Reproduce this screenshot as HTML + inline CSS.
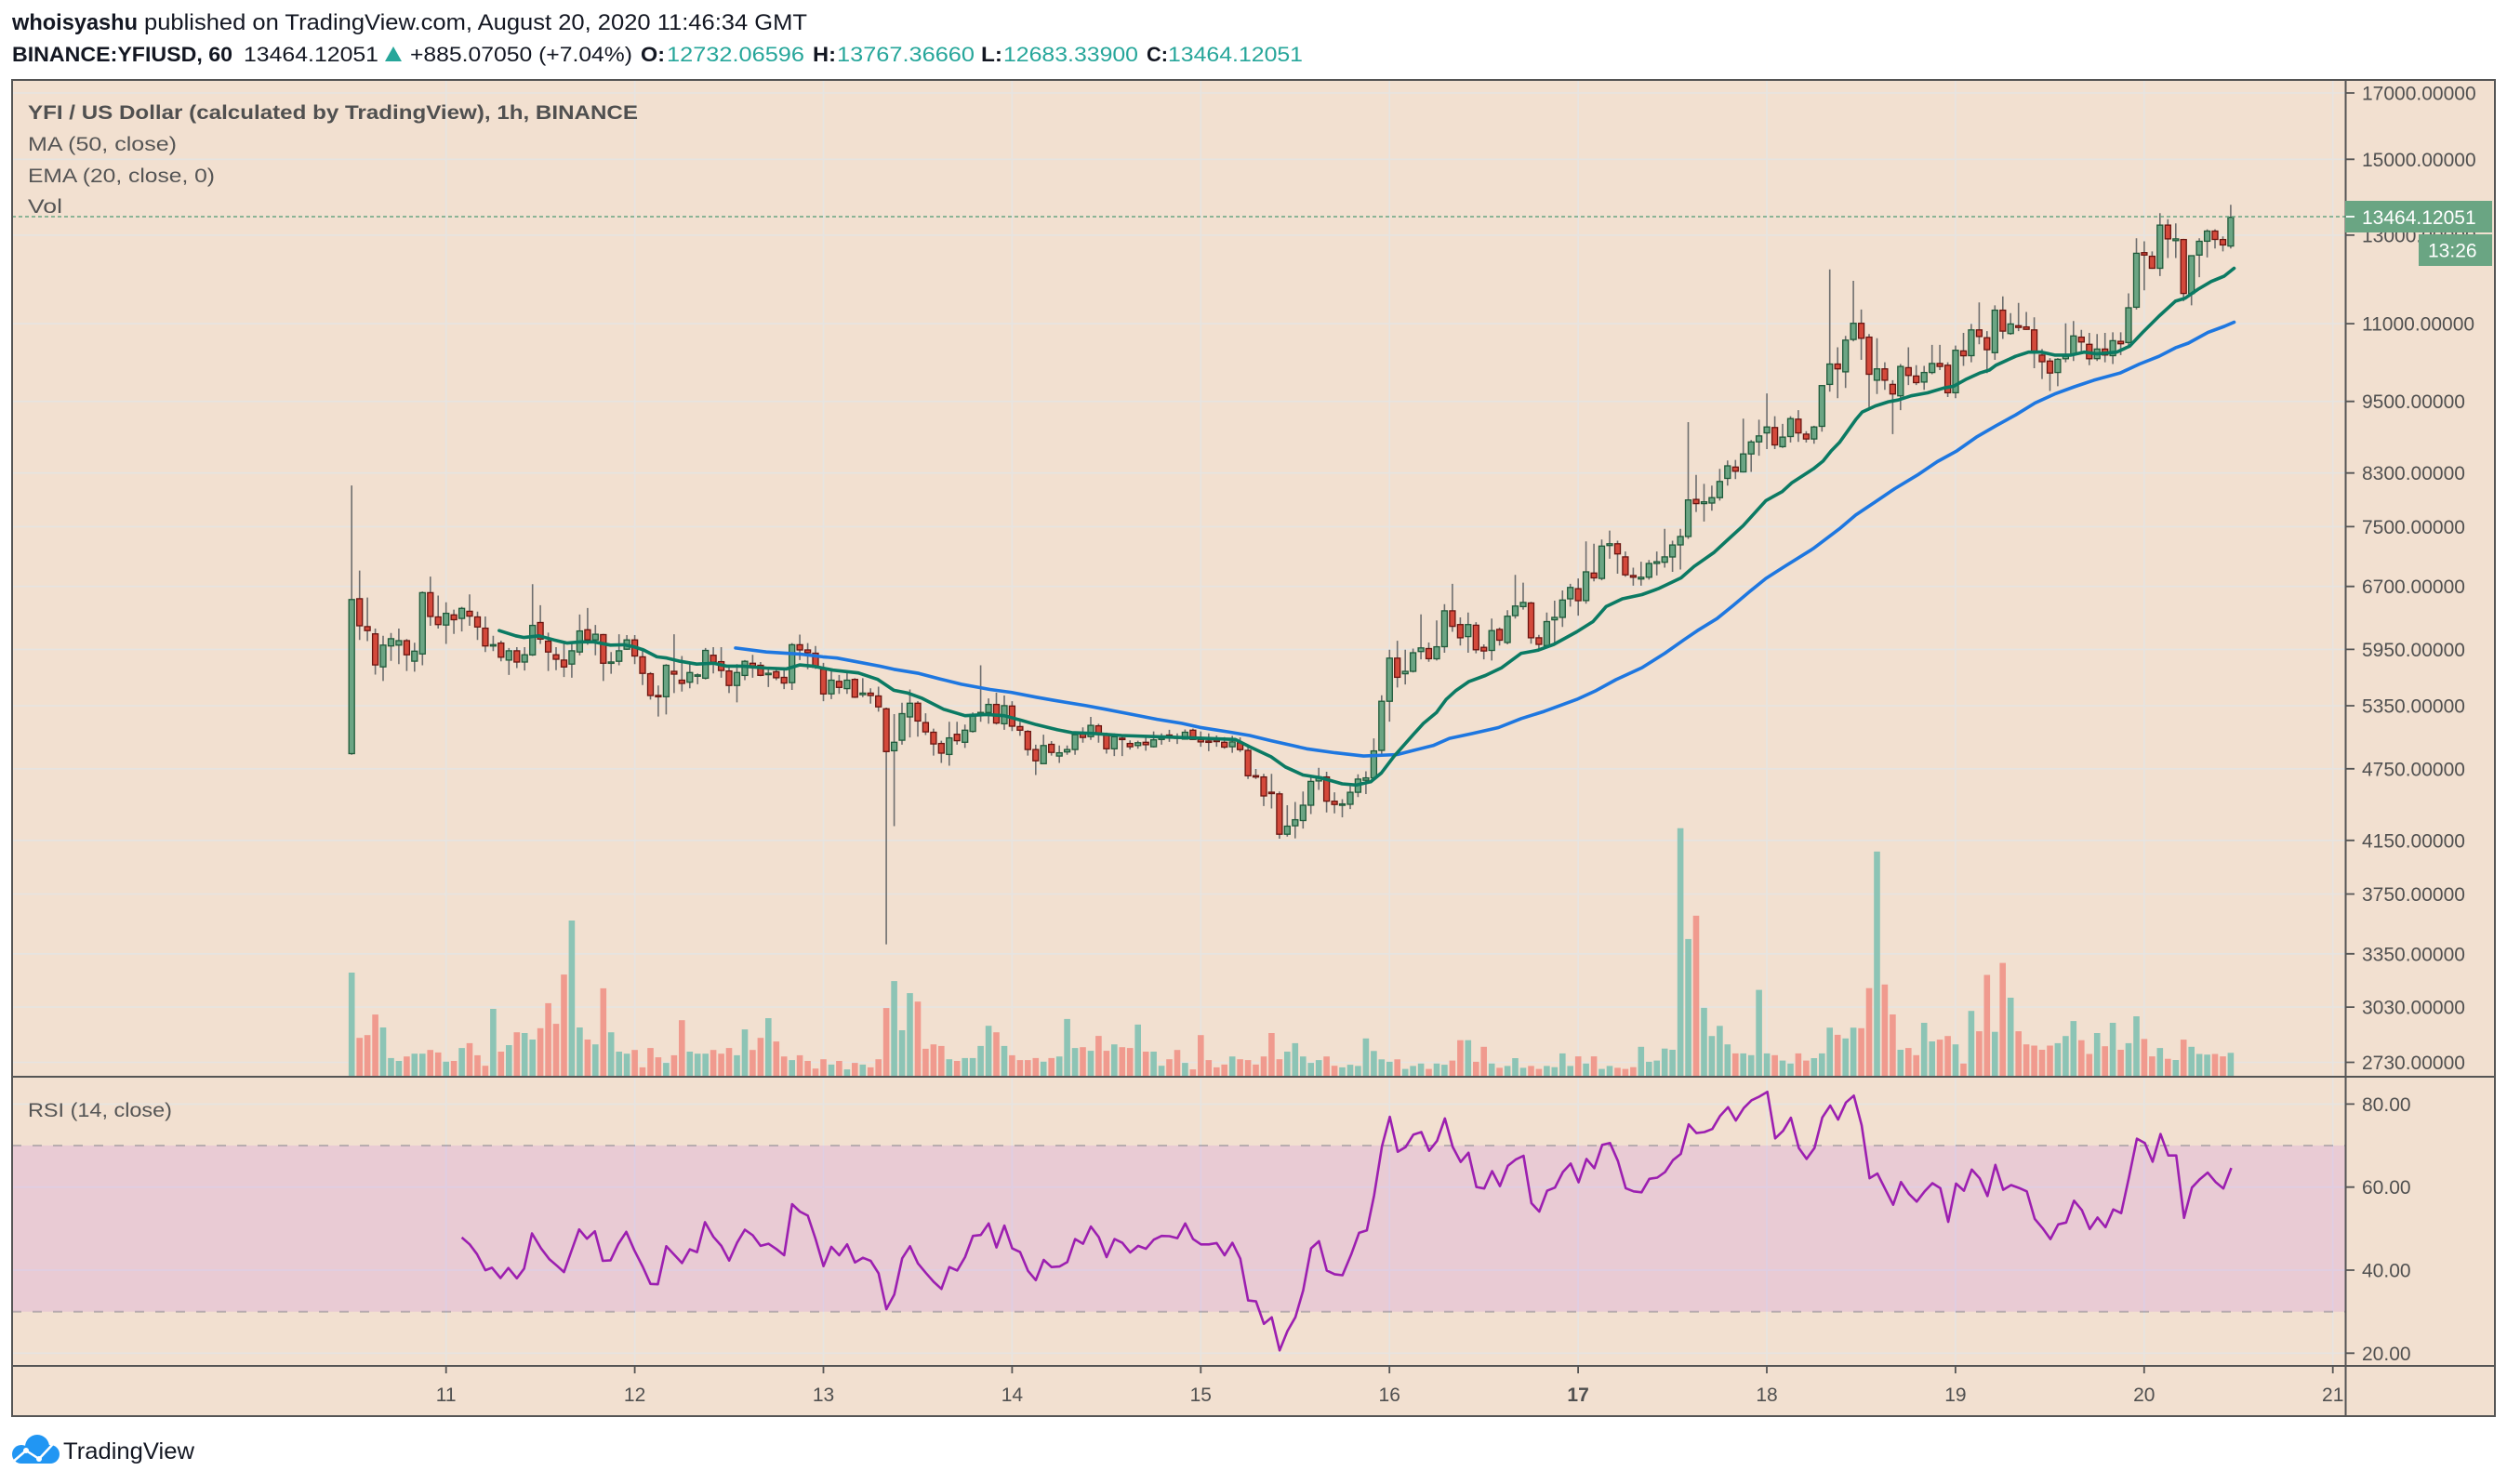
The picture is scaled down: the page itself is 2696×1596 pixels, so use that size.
<!DOCTYPE html>
<html><head><meta charset="utf-8">
<style>
html,body{margin:0;padding:0;background:#fff;width:2696px;height:1596px;overflow:hidden;}
svg{display:block;}
text{font-family:"Liberation Sans",Arial,sans-serif;}
</style></head>
<body>
<svg xmlns="http://www.w3.org/2000/svg" width="2696" height="1596" viewBox="0 0 2696 1596">
<rect x="0" y="0" width="2696" height="1596" fill="#ffffff"/>

<!-- header -->
<text x="13" y="32" font-size="24" font-weight="bold" fill="#131722" textLength="135" lengthAdjust="spacingAndGlyphs">whoisyashu</text>
<text x="155" y="32" font-size="24" fill="#131722" textLength="713" lengthAdjust="spacingAndGlyphs">published on TradingView.com, August 20, 2020 11:46:34 GMT</text>

<text x="13" y="66" font-size="22" font-weight="bold" fill="#131722" textLength="237" lengthAdjust="spacingAndGlyphs">BINANCE:YFIUSD, 60</text>
<text x="262" y="66" font-size="22" fill="#131722" textLength="145" lengthAdjust="spacingAndGlyphs">13464.12051</text>
<polygon points="414,66 432,66 423,50" fill="#26a69a"/>
<text x="441" y="66" font-size="22" fill="#131722" textLength="239" lengthAdjust="spacingAndGlyphs">+885.07050 (+7.04%)</text>
<text x="689" y="66" font-size="22" font-weight="bold" fill="#131722" textLength="26" lengthAdjust="spacingAndGlyphs">O:</text>
<text x="717" y="66" font-size="22" fill="#26a69a" textLength="148" lengthAdjust="spacingAndGlyphs">12732.06596</text>
<text x="874" y="66" font-size="22" font-weight="bold" fill="#131722" textLength="25" lengthAdjust="spacingAndGlyphs">H:</text>
<text x="900" y="66" font-size="22" fill="#26a69a" textLength="148" lengthAdjust="spacingAndGlyphs">13767.36660</text>
<text x="1055" y="66" font-size="22" font-weight="bold" fill="#131722" textLength="23" lengthAdjust="spacingAndGlyphs">L:</text>
<text x="1079" y="66" font-size="22" fill="#26a69a" textLength="145" lengthAdjust="spacingAndGlyphs">12683.33900</text>
<text x="1233" y="66" font-size="22" font-weight="bold" fill="#131722" textLength="23" lengthAdjust="spacingAndGlyphs">C:</text>
<text x="1256" y="66" font-size="22" fill="#26a69a" textLength="145" lengthAdjust="spacingAndGlyphs">13464.12051</text>

<!-- chart background -->
<rect x="13" y="86" width="2670" height="1437" fill="#f2e0d0"/>

<!-- grid -->
<path d="M13 100H2522M13 171.3H2522M13 252.9H2522M13 348.1H2522M13 431.7H2522M13 508.7H2522M13 566.4H2522M13 630.7H2522M13 698.4H2522M13 759H2522M13 826.8H2522M13 903.8H2522M13 961.5H2522M13 1025.8H2522M13 1083.1H2522M13 1142.5H2522M13 1187.4H2522M13 1276.7H2522M13 1366H2522M13 1455.3H2522" stroke="#e6e4e1" stroke-width="1.6" fill="none"/>
<path d="M479.7 86V1469M682.6 86V1469M885.5 86V1469M1088.4 86V1469M1291.3 86V1469M1494.2 86V1469M1697.1 86V1469M1900 86V1469M2102.9 86V1469M2305.8 86V1469M2508.7 86V1469" stroke="#e6e4e1" stroke-width="1.6" fill="none"/>

<!-- RSI band -->
<rect x="13" y="1232" width="2509.5" height="178.7" fill="rgba(153,21,255,0.1)"/>
<path d="M13 1232H2522M13 1410.7H2522" stroke="rgba(120,123,134,0.45)" stroke-width="2" stroke-dasharray="10 12" fill="none"/>

<!-- dynamic series -->
<g id="vol"></g>
<path id="wick" d="" stroke="#6e6e6e" stroke-width="1.6" fill="none"/>
<g id="body"></g>
<polyline id="ma" points="" fill="none" stroke="#1e77e0" stroke-width="3.6" stroke-linejoin="round" stroke-linecap="round"/>
<polyline id="ema" points="" fill="none" stroke="#0b7a63" stroke-width="3.6" stroke-linejoin="round" stroke-linecap="round"/>
<polyline id="rsi" points="" fill="none" stroke="#9c1fb0" stroke-width="2.6" stroke-linejoin="round"/>

<!-- last price line -->
<path d="M13 233H2522" stroke="#6aa583" stroke-width="1.5" stroke-dasharray="4 3" fill="none"/>

<!-- legend -->
<text x="30" y="128" font-size="21" font-weight="bold" fill="#505050" textLength="656" lengthAdjust="spacingAndGlyphs">YFI / US Dollar (calculated by TradingView), 1h, BINANCE</text>
<text x="30" y="162" font-size="21" fill="#555555" textLength="160" lengthAdjust="spacingAndGlyphs">MA (50, close)</text>
<text x="30" y="196" font-size="21" fill="#555555" textLength="201" lengthAdjust="spacingAndGlyphs">EMA (20, close, 0)</text>
<text x="30" y="229" font-size="21" fill="#555555" textLength="37" lengthAdjust="spacingAndGlyphs">Vol</text>
<text x="30" y="1201" font-size="21" fill="#555555" textLength="155" lengthAdjust="spacingAndGlyphs">RSI (14, close)</text>

<!-- borders / separators -->
<rect x="13" y="86" width="2670" height="1437" fill="none" stroke="#555555" stroke-width="2"/>
<path d="M2522.5 86V1523M13 1158H2683M13 1469H2683" stroke="#555555" stroke-width="2" fill="none"/>

<!-- axis ticks -->
<path d="M2523 100H2532M2523 171.3H2532M2523 252.9H2532M2523 348.1H2532M2523 431.7H2532M2523 508.7H2532M2523 566.4H2532M2523 630.7H2532M2523 698.4H2532M2523 759H2532M2523 826.8H2532M2523 903.8H2532M2523 961.5H2532M2523 1025.8H2532M2523 1083.1H2532M2523 1142.5H2532M2523 1187.4H2532M2523 1276.7H2532M2523 1366H2532M2523 1455.3H2532" stroke="#555555" stroke-width="1.8" fill="none"/>
<path d="M479.7 1470V1477M682.6 1470V1477M885.5 1470V1477M1088.4 1470V1477M1291.3 1470V1477M1494.2 1470V1477M1697.1 1470V1477M1900 1470V1477M2102.9 1470V1477M2305.8 1470V1477M2508.7 1470V1477" stroke="#555555" stroke-width="1.8" fill="none"/>

<!-- price labels -->
<g font-size="21" fill="#505050">
<text x="2540" y="107.5">17000.00000</text>
<text x="2540" y="178.8">15000.00000</text>
<text x="2540" y="260.4">13000.00000</text>
<text x="2540" y="355.6">11000.00000</text>
<text x="2540" y="439.2">9500.00000</text>
<text x="2540" y="516.2">8300.00000</text>
<text x="2540" y="573.9">7500.00000</text>
<text x="2540" y="638.2">6700.00000</text>
<text x="2540" y="705.9">5950.00000</text>
<text x="2540" y="766.5">5350.00000</text>
<text x="2540" y="834.3">4750.00000</text>
<text x="2540" y="911.3">4150.00000</text>
<text x="2540" y="969">3750.00000</text>
<text x="2540" y="1033.3">3350.00000</text>
<text x="2540" y="1090.6">3030.00000</text>
<text x="2540" y="1150">2730.00000</text>
<text x="2540" y="1194.9">80.00</text>
<text x="2540" y="1284.2">60.00</text>
<text x="2540" y="1373.5">40.00</text>
<text x="2540" y="1462.8">20.00</text>
</g>

<!-- time labels -->
<g font-size="21" fill="#505050" text-anchor="middle">
<text x="479.7" y="1507">11</text>
<text x="682.6" y="1507">12</text>
<text x="885.5" y="1507">13</text>
<text x="1088.4" y="1507">14</text>
<text x="1291.3" y="1507">15</text>
<text x="1494.2" y="1507">16</text>
<text x="1697.1" y="1507" font-weight="bold">17</text>
<text x="1900" y="1507">18</text>
<text x="2102.9" y="1507">19</text>
<text x="2305.8" y="1507">20</text>
<text x="2508.7" y="1507">21</text>
</g>

<!-- last price boxes -->
<rect x="2522" y="216" width="158" height="34" fill="#6aa583"/>
<path d="M2523 233H2532" stroke="#ffffff" stroke-width="1.8"/>
<text x="2540" y="241" font-size="21" fill="#ffffff">13464.12051</text>
<rect x="2601" y="252" width="79" height="34" fill="#6aa583"/>
<text x="2611" y="276.5" font-size="21" fill="#ffffff">13:26</text>

<!-- logo -->
<g>
<circle cx="23" cy="1564" r="10" fill="#2196f3"/>
<circle cx="40" cy="1556" r="13" fill="#2196f3"/>
<circle cx="54" cy="1564" r="10" fill="#2196f3"/>
<rect x="23" y="1560" width="31" height="14" fill="#2196f3"/>
<polyline points="14,1572 28,1560 42,1569 57,1553" fill="none" stroke="#ffffff" stroke-width="2.5"/>
<circle cx="28" cy="1560" r="3" fill="#ffffff"/>
<circle cx="42" cy="1569" r="3" fill="#ffffff"/>
</g>
<text x="68" y="1569" font-size="25" fill="#131722" textLength="141" lengthAdjust="spacingAndGlyphs">TradingView</text>
</svg>

<script>
(function(){
function X(i){return 378.2+i*8.455;}
var A="g,380,762,97,765,1305;r,378,445,308,480,1467;r,447,457,375,483,1460;r,465,542,452,566,1409;g,493,547,470,582,1441;g,477,495,463,532,1517;g,482,493,452,540,1524;r,482,517,478,557,1513;g,508,533,487,559,1506;g,363,515,360,543,1506;r,363,422,323,445,1497;r,423,442,370,452,1503;g,414,443,387,490,1526;r,418,430,405,465,1524;g,402,427,398,459,1492;r,409,421,367,445,1480;r,423,448,410,480,1510;r,451,495,422,510,1536;g,492,495,470,508,1395;r,488,523,482,533,1501;g,507,530,500,567,1485;r,507,535,498,550,1453;g,517,535,498,556,1455;g,444,517,342,520,1471;r,437,478,394,490,1443;r,483,510,462,557,1381;r,517,528,498,555,1432;r,530,547,483,572,1310;g,507,540,490,574,1176;g,458,510,417,518,1441;r,455,480,401,492,1471;g,466,480,443,518,1483;r,467,538,465,582,1344;g,535,538,510,564,1453;g,507,533,466,543,1501;g,480,503,468,505,1506;r,480,520,468,540,1497;r,522,563,500,592,1540;r,564,618,560,628,1492;r,618,621,593,670,1515;g,543,621,540,665,1529;r,558,565,466,612,1510;r,580,588,520,608,1423;g,561,585,535,600,1501;g,567,570,563,590,1506;g,506,575,500,578,1506;r,518,535,498,563,1497;r,534,556,498,574,1506;r,557,593,548,612,1492;g,561,593,540,635,1510;g,533,568,530,580,1446;r,538,545,517,574,1497;r,543,568,535,570,1467;g,563,566,552,597,1418;r,559,574,551,580,1476;r,573,587,555,602,1513;g,492,586,488,604,1522;r,492,505,467,530,1510;r,505,512,488,553,1524;r,513,548,495,552,1543;r,553,614,537,632,1520;g,580,614,558,627,1533;r,583,598,567,614,1524;g,580,601,560,614,1545";
var B="r,578,622,575,624,1529;g,612,616,575,622,1533;r,612,618,600,638,1540;r,619,646,596,658,1520;r,651,757,648,1235,1393;g,734,755,664,942,1326;g,663,729,636,740,1448;g,637,671,603,722,1356;r,637,681,632,720,1377;r,685,708,662,716,1494;r,709,738,700,767,1483;r,737,761,730,785,1487;g,723,764,683,792,1520;r,714,730,683,740,1524;g,704,734,690,748,1517;g,665,707,660,710,1517;g,660,664,543,683,1487;g,640,660,625,688,1437;r,640,686,611,690,1453;g,643,688,618,703,1487;r,644,694,632,706,1510;r,695,704,683,718,1522;r,707,752,704,767,1522;r,752,780,740,815,1517;g,742,787,715,787,1526;r,739,759,731,767,1517;g,760,768,742,785,1513;g,752,758,742,765,1420;g,715,752,712,765,1492;r,713,722,697,735,1490;g,692,720,671,728,1499;r,693,713,688,735,1462;r,714,750,710,762,1499;g,720,750,712,768,1483;r,724,727,718,768,1490;r,737,745,729,752,1492;g,735,742,730,750,1434;r,734,740,722,755,1501;g,728,745,707,747,1501;g,723,727,712,740,1536;r,716,721,703,733,1520;r,721,724,712,738,1497;g,709,726,702,727,1529;r,704,727,700,728,1545;r,727,733,707,745,1460;r,731,734,712,756,1522;r,729,732,717,745,1540;r,734,746,721,750,1533;g,733,745,718,760,1513;r,735,752,722,758,1520;r,754,817,746,825,1522;r,817,820,800,825,1533;r,820,867,812,892,1513;r,858,861,812,898,1455;r,862,962,856,973,1520;g,942,962,890,968,1501;g,926,941,882,972,1480;g,890,928,856,948,1513;g,831,890,815,912,1529;g,820,830,797,852,1522;r,820,880,807,908,1513;r,880,888,858,910,1536;g,887,890,875,920,1540";
var C="g,1090,1110,1080,1118,1545;g,1068,1090,1060,1098,1547;g,1066,1070,1055,1093,1501;g,1021,1066,1000,1070,1522;g,938,1020,928,1028,1536;g,866,938,852,972,1540;r,866,898,837,915,1536;g,888,892,852,910,1552;g,857,888,850,890,1547;g,849,855,793,868,1543;r,850,867,840,872,1552;g,847,867,803,870,1543;g,787,847,776,857,1545;r,787,813,742,822,1538;r,810,832,798,845,1504;g,810,830,790,857,1504;r,811,852,806,858,1540;r,848,854,843,868,1515;g,820,853,800,870,1543;r,818,836,815,845,1550;g,796,840,786,843,1547;g,779,795,727,800,1534;g,773,780,740,785,1550;r,774,832,772,842,1547;r,832,843,827,850,1552;g,805,845,790,848,1547;g,798,802,770,840,1549;g,769,798,753,814,1526;g,748,767,742,780,1547;r,750,770,733,795,1531;g,722,770,671,775,1543;r,724,732,675,738,1531;g,679,733,668,736,1552;g,675,678,653,700,1547;r,675,692,670,725,1550;r,697,727,688,730,1552;r,728,731,715,745,1549;g,731,734,705,745,1515;g,708,731,702,735,1540;g,705,708,688,728,1538;g,697,706,650,715,1518;g,677,697,670,722,1520;g,663,677,650,718,1150;g,602,663,472,667,1335;r,601,608,560,622,1296;g,605,608,575,638,1450;g,598,607,578,620,1497;g,571,598,550,603,1480;g,545,566,536,578,1511;r,547,554,535,567,1526;g,525,555,466,556,1526;g,505,525,502,555,1529;g,495,505,468,528,1420;g,480,490,424,517,1526;r,481,510,462,517,1529;g,497,513,475,515,1538;g,466,496,462,506,1543;r,467,490,452,505,1526;r,492,500,487,506,1538";
var D="g,480,500,478,508,1534;g,411,479,410,488,1526;g,375,409,217,421,1483;r,375,383,347,432,1495;g,335,388,328,415,1501;g,307,334,236,337,1483;r,307,332,284,368,1484;r,330,392,325,447,1417;g,383,402,332,425,1189;r,383,402,372,418,1411;r,409,425,402,492,1461;g,379,428,375,452,1520;r,381,394,347,410,1517;r,395,406,377,410,1529;g,389,405,378,418,1475;g,374,389,343,392,1506;r,374,379,343,385,1503;r,377,423,372,430,1497;g,352,423,344,432,1511;r,353,361,323,378,1543;g,318,361,308,372,1455;r,318,329,272,342,1489;r,331,351,320,390,1395;g,285,356,277,368,1490;r,285,320,262,333,1375;g,308,324,290,326,1433;r,311,314,273,320,1489;r,313,317,288,318,1511;r,318,354,297,382,1513;r,360,371,350,400,1520;r,370,390,365,420,1513;g,367,389,365,412,1509;g,362,366,307,372,1497;g,328,358,303,370,1472;r,330,338,318,355,1504;r,342,366,323,377,1527;g,350,366,325,370,1492;r,350,360,323,372,1514;g,336,361,322,375,1475;r,337,341,322,360,1520;g,281,339,257,346,1509;g,190,280,165,284,1464;r,189,193,170,252,1502;r,195,215,187,216,1531;g,143,215,123,228,1517;r,143,166,133,198,1535;g,166,169,140,198,1537;r,167,257,166,270,1503;g,194,257,194,277,1515;g,170,193,165,230,1527;g,153,170,150,197,1528;r,153,167,150,182,1527;r,167,176,162,187,1531;g,130,178,109,182,1525";
var segs=[[0,480,0.4337,A],[64,480,0.4337,B],[127,150,0.6441,C],[186,150,0.6441,D]];
var vol='',wk='',bd='',VB=1157;
for(var s=0;s<segs.length;s++){
 var st=segs[s][0],y0=segs[s][1],f=segs[s][2],rows=segs[s][3].split(';');
 for(var k=0;k<rows.length;k++){
  var r=rows[k].split(','); if(r.length<6)continue;
  var i=st+k,x=X(i),g=(r[0]=='g');
  var bt=y0+(+r[1])*f,bb=y0+(+r[2])*f,wt=y0+(+r[3])*f,wb=y0+(+r[4])*f,vt=y0+(+r[5])*f;
  vol+='<rect x="'+(x-3.3).toFixed(1)+'" y="'+vt.toFixed(1)+'" width="6.6" height="'+(VB-vt).toFixed(1)+'" fill="'+(g?'#8cc4b5':'#f09a8e')+'"/>';
  wk+='M'+x.toFixed(1)+' '+wt.toFixed(1)+'V'+wb.toFixed(1);
  var h=bb-bt; if(h<1.5){var m=(bt+bb)/2;bt=m-0.75;h=1.5;}
  bd+='<rect x="'+(x-3).toFixed(1)+'" y="'+bt.toFixed(1)+'" width="6" height="'+h.toFixed(1)+'" fill="'+(g?'#6ba584':'#d4493b')+'" stroke="'+(g?'#1f5a3a':'#6a1510')+'" stroke-width="1.3"/>';
 }
}
document.getElementById('vol').innerHTML=vol;
document.getElementById('wick').setAttribute('d',wk);
document.getElementById('body').innerHTML=bd;

function pts(list,x0,fx,y0,fy){
 var out=[];
 for(var j=0;j<list.length;j++){out.push((x0+list[j][0]*fx).toFixed(1)+','+(y0+list[j][1]*fy).toFixed(1));}
 return out.join(' ');
}
var ema=[
 pts([[495,457],[545,470],[570,474],[615,470],[660,480],[700,488],[740,485],[780,485],[830,493],[870,492],[900,497],[930,505],[970,522],[1000,525],[1040,533],[1090,540],[1140,538],[1180,545],[1230,545],[1300,550],[1360,552],[1400,542],[1440,545],[1500,555]],360,0.3571,480,0.4337),
 pts([[60,562],[115,578],[160,605],[200,612],[240,625],[300,652],[360,668],[420,665],[470,668],[520,680],[560,690],[620,703],[660,710],[720,712],[800,717],[900,720],[1000,723],[1060,725],[1120,727],[1160,745],[1220,770],[1260,795],[1310,815],[1360,822],[1420,837],[1460,840],[1500,832],[1530,810]],900,0.3827,480,0.4337),
 pts([[140,1030],[200,993],[230,975],[270,957],[300,935],[330,920],[370,905],[420,895],[470,882],[530,858],[580,853],[630,843],[700,822],[750,805],[790,780],[840,767],[900,760],[950,750],[1020,732],[1060,713],[1120,690],[1160,670],[1210,645],[1280,603],[1330,588],[1360,573]],1450,0.3508,150,0.6441),
 pts([[0,550],[30,537],[55,520],[80,506],[130,468],[150,455],[190,445],[230,438],[260,435],[300,428],[350,423],[400,415],[430,412],[470,400],[510,390],[540,385],[560,377],[620,362],[660,355],[700,355],[740,360],[790,360],[830,355],[870,358],[930,355],[970,345],[1010,322],[1060,295],[1110,270],[1140,265],[1180,250],[1220,237],[1260,228],[1290,215]],1950,0.3508,150,0.6441)
].join(' ');
document.getElementById('ema').setAttribute('points',ema);

var ma=[
 pts([[1207,500],[1300,510],[1400,515],[1470,522]],360,0.3571,480,0.4337),
 pts([[0,525],[120,545],[160,553],[230,563],[290,577],[350,590],[430,603],[490,610],[560,622],[610,630],[700,643],[760,653],[830,665],[900,677],[970,687],[1020,697],[1100,708],[1160,717],[1220,730],[1280,742],[1320,750],[1400,760],[1480,768]],900,0.3827,480,0.4337),
 pts([[150,1027],[200,1020],[260,1012],[310,1000],[380,992],[460,982],[530,967],[600,955],[700,935],[760,920],[820,902],[900,882],[970,858],[1030,835],[1070,820],[1130,800],[1180,778],[1230,755],[1280,733],[1340,712],[1420,685]],1450,0.3508,150,0.6441),
 pts([[0,683],[80,650],[130,627],[190,605],[250,583],[320,560],[380,538],[440,520],[500,497],[560,478],[620,460],[680,440],[740,425],[800,413],[860,402],[940,390],[1000,375],[1060,362],[1110,348],[1150,340],[1210,322],[1260,312],[1290,305]],1950,0.3508,150,0.6441)
].join(' ');
document.getElementById('ma').setAttribute('points',ma);

function parse(str){var a=str.split(' '),o=[];for(var j=0;j<a.length;j++){var p=a[j].split(',');if(p.length==2)o.push([+p[0],+p[1]]);}return o;}
var r1="87,515 100,537 112,568 126,620 137,612 151,645 164,613 178,646 190,615 203,502 218,550 232,585 245,607 256,626 268,560 281,489 294,519 307,495 320,590 333,588 346,535 359,497 372,555 386,608 399,664 411,665 425,543 438,570 451,597 464,553 476,562 489,466 503,513 516,542 529,589 542,532 555,490 568,508 581,542 594,535 607,552 620,572 633,408 646,432 659,445 672,520 685,607 698,545 711,572 724,537 737,595 750,580 763,590 776,630 789,745 802,698 815,582 828,543 841,598 854,628 867,657 880,680 893,610 906,621 919,578 932,510 945,507 958,470 971,547 984,477 997,550 1010,562 1023,622 1036,652 1049,587 1062,610 1075,608 1088,594 1101,520 1114,535 1127,480 1140,514 1153,578 1166,520 1179,532 1192,563 1205,542 1218,551 1231,522 1244,510 1257,511 1270,517 1283,470 1296,520 1309,537 1322,537 1335,533 1348,572 1361,532 1374,583 1387,717 1400,720 1413,792 1426,771 1439,877 1452,815 1465,771 1478,685 1491,550 1504,527 1517,621 1530,633 1543,636";
var r2="20,570 33,500 46,492 58,380 71,222 84,128 97,240 110,225 123,185 136,177 149,237 162,205 175,133 188,225 201,273 214,243 227,353 240,358 253,302 266,350 279,285 292,265 305,253 318,405 331,432 344,365 357,355 370,305 383,278 396,338 409,263 422,293 435,218 448,212 461,270 474,357 487,367 500,370 513,327 526,323 539,305 552,267 565,247 578,152 591,180 604,177 617,167 630,125 643,97 656,140 669,100 682,75 695,63 708,48 721,197 734,173 747,131 760,228 773,263 786,228 799,130 812,92 825,137 838,82 851,60 864,155 877,325 890,310 903,360 916,410 929,337 942,375 955,400 968,367 981,341 994,357 1007,465 1020,342 1033,365 1046,297 1059,325 1072,382 1085,282 1098,362 1111,347 1124,356 1137,367 1150,455 1163,485 1176,520 1189,473 1202,467 1215,397 1228,427 1241,488 1254,451 1267,482 1280,425 1293,437 1306,320 1319,198 1332,212 1345,272 1358,183 1371,252 1384,252 1397,452 1410,355 1423,328 1436,307 1449,337 1462,358 1475,292";
var rsi=pts(parse(r1),440,0.6505,1158.2,0.3353)+' '+pts(parse(r2),1440,0.6505,1158.2,0.3353);
document.getElementById('rsi').setAttribute('points',rsi);
})();
</script>
</body></html>
